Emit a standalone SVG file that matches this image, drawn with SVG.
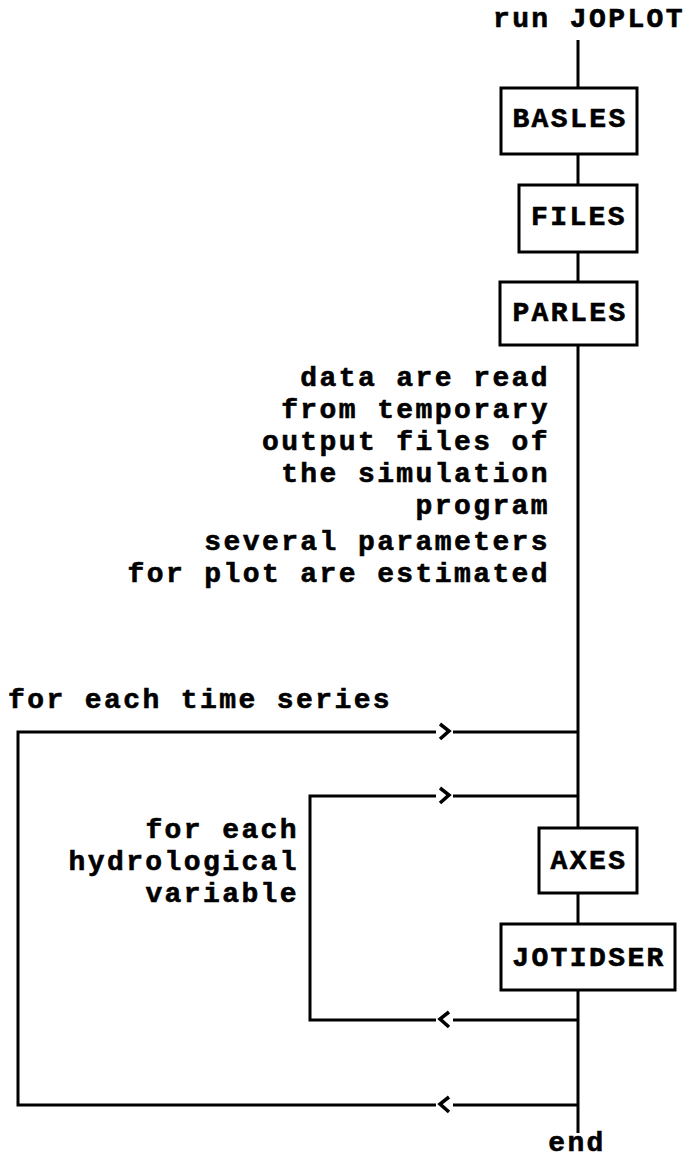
<svg xmlns="http://www.w3.org/2000/svg" width="684" height="1161" viewBox="0 0 684 1161">
<style>
text{font-family:"Liberation Mono","Courier New",monospace;font-weight:bold;font-size:28px;letter-spacing:2.4px;fill:#000;stroke:#000;stroke-width:0.6}
.r{text-anchor:end}
.m{text-anchor:middle}
.box{fill:#fff;stroke:#000;stroke-width:3}
.ln{fill:none;stroke:#000;stroke-width:3}
.ch{fill:none;stroke:#000;stroke-width:3.5}
</style>
<rect width="684" height="1161" fill="#fff"/>
<g id="connectors">
<line class="ln" x1="578" y1="40" x2="578" y2="1133"/>
<polyline class="ln" points="436,732 18,732 18,1105 436,1105"/>
<line class="ln" x1="453" y1="732" x2="578" y2="732"/>
<line class="ln" x1="453" y1="1105" x2="578" y2="1105"/>
<polyline class="ln" points="436,796 310,796 310,1020 436,1020"/>
<line class="ln" x1="453" y1="796" x2="578" y2="796"/>
<line class="ln" x1="453" y1="1020" x2="578" y2="1020"/>
<polyline class="ch" points="440,724 449,731 440,739"/>
<polyline class="ch" points="440,788 449,795 440,803"/>
<polyline class="ch" points="449,1012 440,1019 449,1027"/>
<polyline class="ch" points="449,1097 440,1104 449,1112"/>
</g>
<g id="start"><text x="685" y="27" class="r">run JOPLOT</text></g>
<g id="basles"><rect class="box" x="501" y="88" width="136" height="66"/><text x="570" y="127" class="m">BASLES</text></g>
<g id="files"><rect class="box" x="519" y="185" width="118" height="67"/><text x="579" y="225" class="m">FILES</text></g>
<g id="parles"><rect class="box" x="500" y="282" width="137" height="63"/><text x="570" y="321" class="m">PARLES</text></g>
<g id="note1">
<text x="550" y="386" class="r">data are read</text>
<text x="550" y="418" class="r">from temporary</text>
<text x="550" y="450" class="r">output files of</text>
<text x="550" y="482" class="r">the simulation</text>
<text x="550" y="514" class="r">program</text>
</g>
<g id="note2">
<text x="550" y="550" class="r">several parameters</text>
<text x="550" y="582" class="r">for plot are estimated</text>
</g>
<g id="loop1"><text x="8" y="708">for each time series</text></g>
<g id="loop2">
<text x="299" y="838" class="r">for each</text>
<text x="299" y="870" class="r">hydrological</text>
<text x="299" y="902" class="r">variable</text>
</g>
<g id="axes"><rect class="box" x="539" y="828" width="98" height="65"/><text x="589" y="869" class="m">AXES</text></g>
<g id="jotidser"><rect class="box" x="501" y="924" width="174" height="66"/><text x="589" y="966" class="m">JOTIDSER</text></g>
<g id="end"><text x="577" y="1151" class="m">end</text></g>
</svg>
